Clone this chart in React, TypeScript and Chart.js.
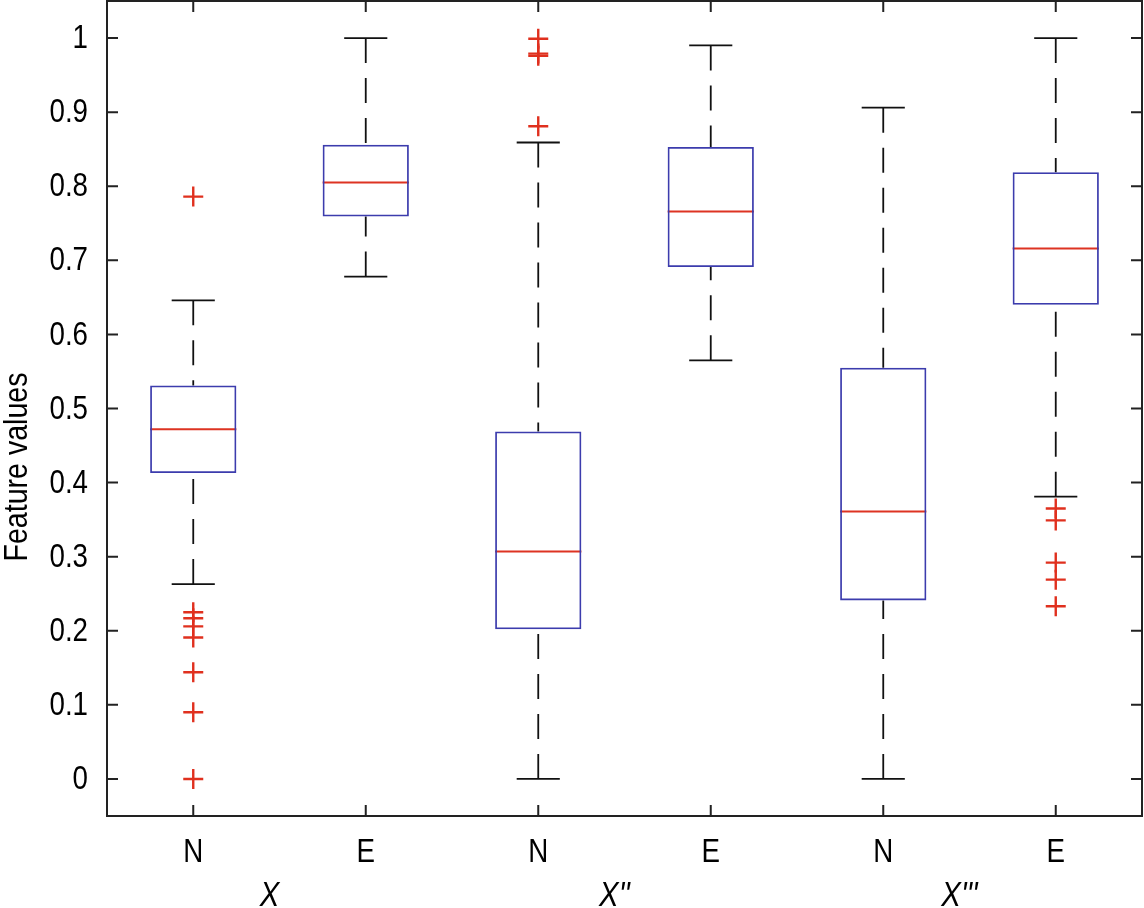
import React, { useEffect, useRef } from "react";
import { Chart, registerables } from "chart.js";

Chart.register(...registerables);

// ---------- data ----------
const categories = ["N", "E", "N", "E", "N", "E"];
const groupLabels = ["X", "X''", "X'''"];
const q1 = [0.413, 0.759, 0.202, 0.691, 0.241, 0.64];
const medians = [0.472, 0.805, 0.307, 0.766, 0.361, 0.716];
const q3 = [0.531, 0.856, 0.469, 0.853, 0.555, 0.819];
const whiskerLow = [0.263, 0.678, 0.0, 0.565, 0.0, 0.381];
const whiskerHigh = [0.646, 1.0, 0.859, 0.99, 0.906, 1.0];
const outliers: number[][] = [
  [0.786, 0.225, 0.217, 0.206, 0.191, 0.144, 0.09, 0.0],
  [],
  [0.999, 0.979, 0.976, 0.881],
  [],
  [],
  [0.365, 0.349, 0.292, 0.269, 0.233],
];
const yTicks = [0, 0.1, 0.2, 0.3, 0.4, 0.5, 0.6, 0.7, 0.8, 0.9, 1];
const yTitle = "Feature values";

// ---------- styles ----------
const FONT = "'Liberation Sans', Arial, sans-serif";
const SQUEEZE = 0.84;
const BOX_BLUE = "#3c3cad";
const MED_RED = "#dd3322";
const OUT_RED = "#e0301e";
const FRAME = "#222";

function squeezedText(ctx: any, text: string, x: number, y: number, align: string, baseline: string) {
  ctx.save();
  ctx.translate(x, y);
  ctx.scale(SQUEEZE, 1);
  ctx.textAlign = align;
  ctx.textBaseline = baseline;
  ctx.fillText(text, 0, 0);
  ctx.restore();
}

const boxPlugin = {
  id: "boxExtras",
  beforeDatasetsDraw(chart: any) {
    const { ctx, scales } = chart;
    const xs = scales.x;
    const ys = scales.y;
    ctx.save();
    categories.forEach((_, i) => {
      const xc = xs.getPixelForValue(i + 1);
      const half = xs.getPixelForValue(i + 1.25) - xc;
      const cap = xs.getPixelForValue(i + 1.125) - xc;
      const yHi = ys.getPixelForValue(whiskerHigh[i]);
      const yLo = ys.getPixelForValue(whiskerLow[i]);
      const yQ3 = ys.getPixelForValue(q3[i]);
      const yQ1 = ys.getPixelForValue(q1[i]);
      const yMed = ys.getPixelForValue(medians[i]);
      ctx.strokeStyle = "#111";
      ctx.lineWidth = 1.8;
      ctx.setLineDash([25, 15]);
      ctx.beginPath();
      ctx.moveTo(xc, yHi);
      ctx.lineTo(xc, yQ3);
      ctx.stroke();
      ctx.beginPath();
      ctx.moveTo(xc, yLo);
      ctx.lineTo(xc, yQ1);
      ctx.stroke();
      ctx.setLineDash([]);
      ctx.beginPath();
      ctx.moveTo(xc - cap, yHi);
      ctx.lineTo(xc + cap, yHi);
      ctx.moveTo(xc - cap, yLo);
      ctx.lineTo(xc + cap, yLo);
      ctx.stroke();
      ctx.strokeStyle = MED_RED;
      ctx.lineWidth = 2;
      ctx.beginPath();
      ctx.moveTo(xc - half, yMed);
      ctx.lineTo(xc + half, yMed);
      ctx.stroke();
    });
    ctx.restore();
  },
  afterDraw(chart: any) {
    const { ctx, scales, chartArea } = chart;
    const xs = scales.x;
    const ys = scales.y;
    const { left, right, top, bottom } = chartArea;
    ctx.save();
    ctx.strokeStyle = FRAME;
    ctx.lineWidth = 2;
    ctx.strokeRect(left, top, right - left, bottom - top);
    const tl = 11;
    ctx.beginPath();
    yTicks.forEach((v) => {
      const y = ys.getPixelForValue(v);
      ctx.moveTo(left, y);
      ctx.lineTo(left + tl, y);
      ctx.moveTo(right, y);
      ctx.lineTo(right - tl, y);
    });
    categories.forEach((_, i) => {
      const x = xs.getPixelForValue(i + 1);
      ctx.moveTo(x, bottom);
      ctx.lineTo(x, bottom - tl);
      ctx.moveTo(x, top);
      ctx.lineTo(x, top + tl);
    });
    ctx.stroke();

    ctx.fillStyle = "#000";
    ctx.font = `33px ${FONT}`;
    yTicks.forEach((v) => {
      const label = String(Math.round(v * 10) / 10);
      squeezedText(ctx, label, left - 19, ys.getPixelForValue(v) + 1, "right", "middle");
    });
    categories.forEach((c, i) => {
      squeezedText(ctx, c, xs.getPixelForValue(i + 1), bottom + 46, "center", "alphabetic");
    });
    ctx.font = `italic 35px ${FONT}`;
    groupLabels.forEach((g, k) => {
      const xm = (xs.getPixelForValue(2 * k + 1) + xs.getPixelForValue(2 * k + 2)) / 2 - 10;
      squeezedText(ctx, g, xm, 906, "center", "alphabetic");
    });
    ctx.font = `34px ${FONT}`;
    ctx.translate(27, 467);
    ctx.rotate(-Math.PI / 2);
    squeezedText(ctx, yTitle, 0, 0, "center", "alphabetic");
    ctx.restore();
  },
};

function zeroPad(s: any) {
  s.paddingTop = 0;
  s.paddingBottom = 0;
  s.paddingLeft = 0;
  s.paddingRight = 0;
}

export default function App() {
  const ref = useRef<HTMLCanvasElement | null>(null);
  useEffect(() => {
    if (!ref.current) return;
    const outlierPts: { x: number; y: number }[] = [];
    outliers.forEach((arr, i) => arr.forEach((v) => outlierPts.push({ x: i + 1, y: v })));
    const chart = new Chart(ref.current, {
      type: "bar",
      data: {
        datasets: [
          {
            type: "bar",
            data: categories.map((_, i) => ({ x: i + 1, y: [q1[i], q3[i]] })) as any,
            backgroundColor: "rgba(0,0,0,0)",
            borderColor: BOX_BLUE,
            borderWidth: 1.8,
            borderSkipped: false,
            barPercentage: 0.5,
            categoryPercentage: 1,
            order: 2,
          } as any,
          {
            type: "scatter",
            data: outlierPts,
            pointStyle: "cross",
            radius: 10,
            borderColor: OUT_RED,
            backgroundColor: OUT_RED,
            borderWidth: 2.4,
            order: 1,
          } as any,
        ],
      },
      options: {
        animation: false,
        responsive: false,
        devicePixelRatio: 1,
        layout: { autoPadding: false, padding: { top: 1, right: 2, left: 0, bottom: 0 } },
        plugins: { legend: { display: false }, tooltip: { enabled: false } },
        scales: {
          x: {
            type: "linear",
            offset: false,
            min: 0.5,
            max: 6.5,
            grid: { display: false, drawTicks: false },
            border: { display: false },
            afterBuildTicks: (s: any) => {
              s.ticks = categories.map((_, i) => ({ value: i + 1 }));
            },
            afterFit: (s: any) => {
              s.height = 92;
              zeroPad(s);
            },
            ticks: { display: false },
          },
          y: {
            type: "linear",
            min: -0.05,
            max: 1.05,
            grid: { display: false, drawTicks: false },
            border: { display: false },
            afterBuildTicks: (s: any) => {
              s.ticks = yTicks.map((v) => ({ value: v }));
            },
            afterFit: (s: any) => {
              s.width = 107;
              zeroPad(s);
            },
            ticks: { display: false },
          },
        },
      },
      plugins: [boxPlugin],
    });
    return () => chart.destroy();
  }, []);
  return (
    <div style={{ position: "absolute", left: 0, top: 0, width: 1144, height: 908, background: "#fff" }}>
      <canvas ref={ref} width={1144} height={908} />
    </div>
  );
}
